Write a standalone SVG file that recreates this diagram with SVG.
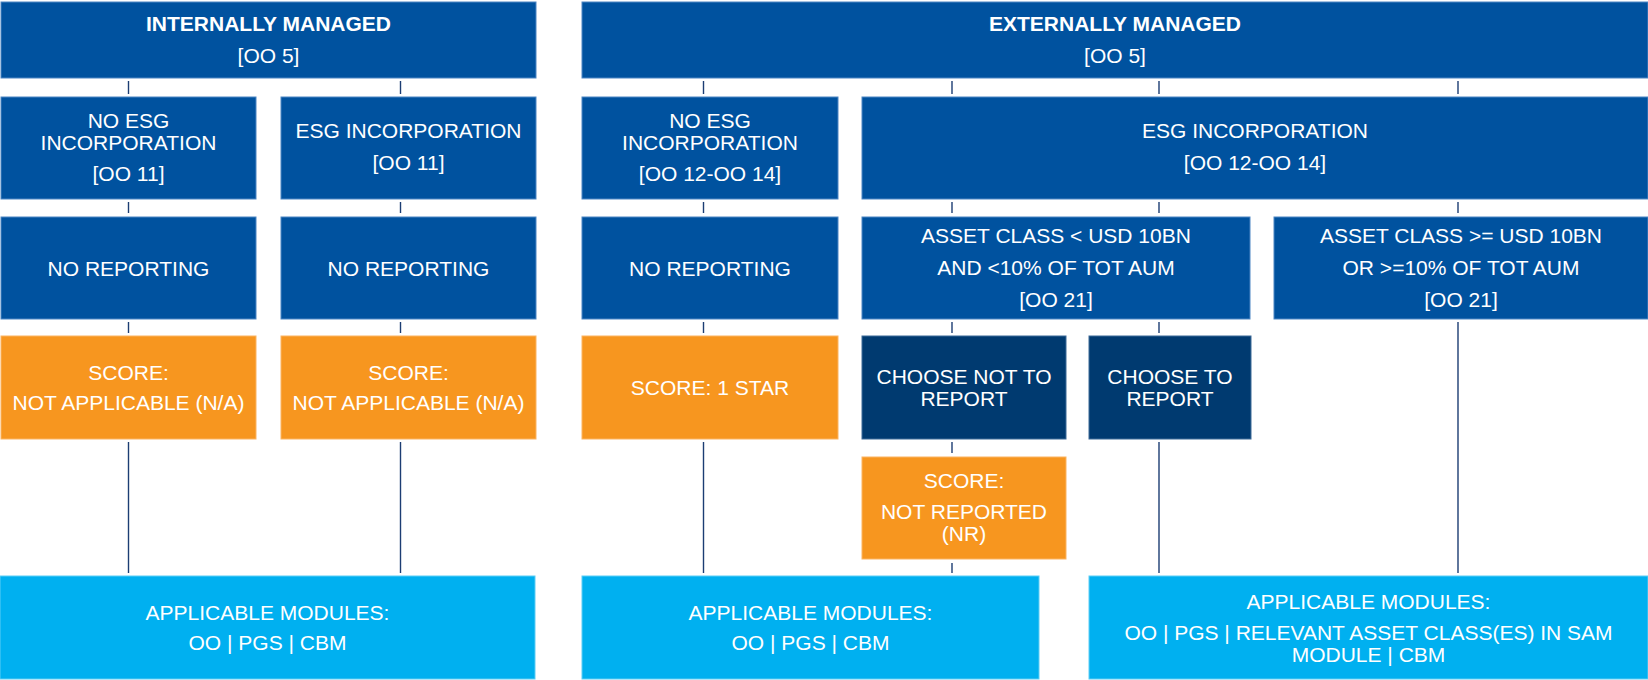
<svg xmlns="http://www.w3.org/2000/svg" width="1648" height="680" viewBox="0 0 1648 680">
<style>
.b{fill:#00529F;stroke:#4d86c4;stroke-width:1}
.d{fill:#003A70;stroke:#3d6a98;stroke-width:1}
.o{fill:#F7961F;stroke:#fbb462;stroke-width:1}
.l{fill:#00B0F0;stroke:#5ccdf5;stroke-width:1}
text{font-family:"Liberation Sans",Arial,sans-serif;font-size:21px;fill:#ffffff;text-anchor:middle}
.t{font-weight:bold}
#connectors line{stroke:#1c3d73;stroke-width:1.4}
</style>
<rect width="1648" height="680" fill="#ffffff"/>
<g id="connectors">
<line x1="128.5" y1="81" x2="128.5" y2="94"/><line x1="128.5" y1="202" x2="128.5" y2="213"/><line x1="128.5" y1="322" x2="128.5" y2="333"/><line x1="128.5" y1="442" x2="128.5" y2="573"/>
<line x1="400.5" y1="81" x2="400.5" y2="94"/><line x1="400.5" y1="202" x2="400.5" y2="213"/><line x1="400.5" y1="322" x2="400.5" y2="333"/><line x1="400.5" y1="442" x2="400.5" y2="573"/>
<line x1="703.5" y1="81" x2="703.5" y2="94"/><line x1="703.5" y1="202" x2="703.5" y2="213"/><line x1="703.5" y1="322" x2="703.5" y2="333"/><line x1="703.5" y1="442" x2="703.5" y2="573"/>
<line x1="952" y1="81" x2="952" y2="94"/><line x1="952" y1="202" x2="952" y2="213"/><line x1="952" y1="322" x2="952" y2="333"/><line x1="952" y1="442" x2="952" y2="453"/><line x1="952" y1="563" x2="952" y2="573"/>
<line x1="1159" y1="81" x2="1159" y2="94"/><line x1="1159" y1="202" x2="1159" y2="213"/><line x1="1159" y1="322" x2="1159" y2="333"/><line x1="1159" y1="442" x2="1159" y2="573"/>
<line x1="1458" y1="81" x2="1458" y2="94"/><line x1="1458" y1="202" x2="1458" y2="213"/><line x1="1458" y1="322" x2="1458" y2="573"/>
</g>
<g id="internally-managed"><rect class="b" x="1" y="2" width="535" height="76"/><text class="t" x="268.5" y="31">INTERNALLY MANAGED</text><text x="268.5" y="63">[OO 5]</text></g>
<g id="externally-managed"><rect class="b" x="582" y="2" width="1066" height="76"/><text class="t" x="1115" y="31">EXTERNALLY MANAGED</text><text x="1115" y="63">[OO 5]</text></g>
<g id="int-no-esg"><rect class="b" x="1" y="97" width="255" height="102"/><text x="128.5" y="128">NO ESG</text><text x="128.5" y="150">INCORPORATION</text><text x="128.5" y="181">[OO 11]</text></g>
<g id="int-esg"><rect class="b" x="281" y="97" width="255" height="102"/><text x="408.5" y="138">ESG INCORPORATION</text><text x="408.5" y="170">[OO 11]</text></g>
<g id="ext-no-esg"><rect class="b" x="582" y="97" width="256" height="102"/><text x="710" y="128">NO ESG</text><text x="710" y="150">INCORPORATION</text><text x="710" y="181">[OO 12-OO 14]</text></g>
<g id="ext-esg"><rect class="b" x="862" y="97" width="786" height="102"/><text x="1255" y="138">ESG INCORPORATION</text><text x="1255" y="170">[OO 12-OO 14]</text></g>
<g id="int-no-reporting-1"><rect class="b" x="1" y="217" width="255" height="102"/><text x="128.5" y="275.5">NO REPORTING</text></g>
<g id="int-no-reporting-2"><rect class="b" x="281" y="217" width="255" height="102"/><text x="408.5" y="275.5">NO REPORTING</text></g>
<g id="ext-no-reporting"><rect class="b" x="582" y="217" width="256" height="102"/><text x="710" y="275.5">NO REPORTING</text></g>
<g id="asset-class-small"><rect class="b" x="862" y="217" width="388" height="102"/><text x="1056" y="243">ASSET CLASS &lt; USD 10BN</text><text x="1056" y="275">AND &lt;10% OF TOT AUM</text><text x="1056" y="307">[OO 21]</text></g>
<g id="asset-class-large"><rect class="b" x="1274" y="217" width="374" height="102"/><text x="1461" y="243">ASSET CLASS &gt;= USD 10BN</text><text x="1461" y="275">OR &gt;=10% OF TOT AUM</text><text x="1461" y="307">[OO 21]</text></g>
<g id="score-na-1"><rect class="o" x="1" y="336" width="255" height="103"/><text x="128.5" y="379.5">SCORE:</text><text x="128.5" y="410">NOT APPLICABLE (N/A)</text></g>
<g id="score-na-2"><rect class="o" x="281" y="336" width="255" height="103"/><text x="408.5" y="379.5">SCORE:</text><text x="408.5" y="410">NOT APPLICABLE (N/A)</text></g>
<g id="score-1-star"><rect class="o" x="582" y="336" width="256" height="103"/><text x="710" y="395">SCORE: 1 STAR</text></g>
<g id="choose-not-to-report"><rect class="d" x="862" y="336" width="204" height="103"/><text x="964" y="384">CHOOSE NOT TO</text><text x="964" y="406">REPORT</text></g>
<g id="choose-to-report"><rect class="d" x="1089" y="336" width="162" height="103"/><text x="1170" y="384">CHOOSE TO</text><text x="1170" y="406">REPORT</text></g>
<g id="score-nr"><rect class="o" x="862" y="457" width="204" height="102"/><text x="964" y="488">SCORE:</text><text x="964" y="518.5">NOT REPORTED</text><text x="964" y="541">(NR)</text></g>
<g id="modules-1"><rect class="l" x="0" y="576" width="535" height="103"/><text x="267.5" y="619.5">APPLICABLE MODULES:</text><text x="267.5" y="650">OO | PGS | CBM</text></g>
<g id="modules-2"><rect class="l" x="582" y="576" width="457" height="103"/><text x="810.5" y="619.5">APPLICABLE MODULES:</text><text x="810.5" y="650">OO | PGS | CBM</text></g>
<g id="modules-3"><rect class="l" x="1089" y="576" width="559" height="103"/><text x="1368.5" y="608.5">APPLICABLE MODULES:</text><text x="1368.5" y="639.5">OO | PGS | RELEVANT ASSET CLASS(ES) IN SAM</text><text x="1368.5" y="662">MODULE | CBM</text></g>
</svg>
